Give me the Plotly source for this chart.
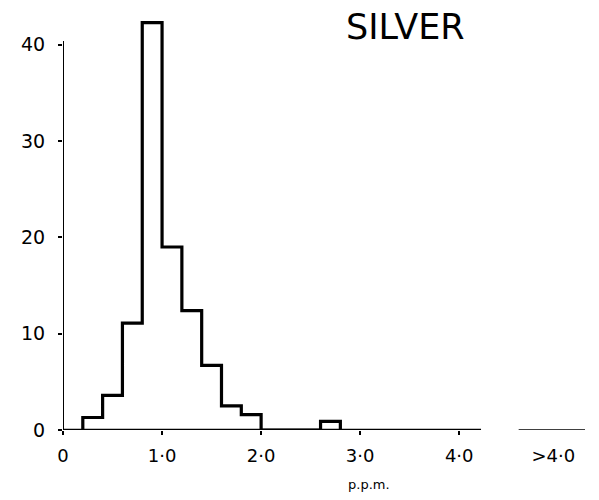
import plotly.graph_objects as go

# ---- data (percent of samples per 0.2 p.p.m. class) ----
bin_lefts = [0.2, 0.4, 0.6, 0.8, 1.0, 1.2, 1.4, 1.6, 1.8, 2.0, 2.2, 2.4, 2.6]
bin_width = 0.2
percent = [1.3, 3.6, 11.1, 42.3, 19.0, 12.4, 6.7, 2.5, 1.6, 0.0, 0.0, 0.0, 0.9]

over_bin = [4.6, 5.27]      # ">4.0" class drawn as separate segment
over_value = 0.0

x_tickvals = [0, 1, 2, 3, 4, 4.95]
x_ticktext = ["0", "1·0", "2·0", "3·0", "4·0", ">4·0"]
y_tickvals = [0, 10, 20, 30, 40]
y_ticktext = ["0", "10", "20", "30", "40"]
x_axis_extent = [0, 4.22]
y_axis_extent = [0, 40.4]

title_text = "SILVER"
unit_text = "p.p.m."

# ---- build step outline ----
step_x = [bin_lefts[0]] + bin_lefts + [bin_lefts[-1] + bin_width]
step_y = [0] + percent + [0]

W, H = 599, 500
ML, MR, MT, MB = 63, 11, 2, 70
pw = W - ML - MR
ph = H - MT - MB


def px_to_paper(px, py):
    return (px - ML) / pw, (H - MB - py) / ph


fig = go.Figure()

fig.add_trace(go.Scatter(x=[0, 0], y=y_axis_extent, mode="lines",
                         line=dict(color="black", width=2), hoverinfo="skip"))
fig.add_trace(go.Scatter(x=x_axis_extent, y=[0, 0], mode="lines",
                         line=dict(color="black", width=2.5), hoverinfo="skip"))
fig.add_trace(go.Scatter(x=over_bin, y=[over_value, over_value], mode="lines",
                         line=dict(color="black", width=1.5), hoverinfo="skip"))

fig.add_trace(go.Scatter(x=step_x, y=step_y, mode="lines",
                         line=dict(color="black", width=3.2, shape="hv"),
                         hoverinfo="skip"))

font_family = "DejaVu Sans"

tx, ty = px_to_paper(405, 27)
ux, uy = px_to_paper(369, 485)

fig.update_layout(
    width=W, height=H,
    margin=dict(l=ML, r=MR, t=MT, b=MB),
    paper_bgcolor="white", plot_bgcolor="white",
    showlegend=False,
    xaxis=dict(range=[0, 5.3], showgrid=False, zeroline=False, showline=False,
               automargin=False,
               tickvals=x_tickvals, ticktext=x_ticktext, ticks="",
               tickfont=dict(family=font_family, size=18, color="black"),
               ticklabelstandoff=13,
               minor=dict(tickvals=[0, 1, 2, 3, 4], ticks="outside", ticklen=4,
                          tickwidth=1.5, tickcolor="black"),
               fixedrange=True),
    yaxis=dict(range=[0, 44.44], showgrid=False, zeroline=False, showline=False,
               automargin=False,
               tickvals=y_tickvals, ticktext=y_ticktext, ticks="outside",
               ticklen=4, tickwidth=2, tickcolor="black",
               ticklabelstandoff=9,
               tickfont=dict(family=font_family, size=19, color="black"),
               fixedrange=True),
    annotations=[
        dict(text=title_text, x=tx, y=ty, xref="paper", yref="paper",
             xanchor="center", yanchor="middle",
             showarrow=False, font=dict(family=font_family, size=35, color="black")),
        dict(text=unit_text, x=ux, y=uy, xref="paper", yref="paper",
             xanchor="center", yanchor="middle",
             showarrow=False, font=dict(family=font_family, size=13, color="black")),
    ],
)

fig.write_html("out.html", config={"displayModeBar": False},
               post_script="document.body.style.margin='0';")
